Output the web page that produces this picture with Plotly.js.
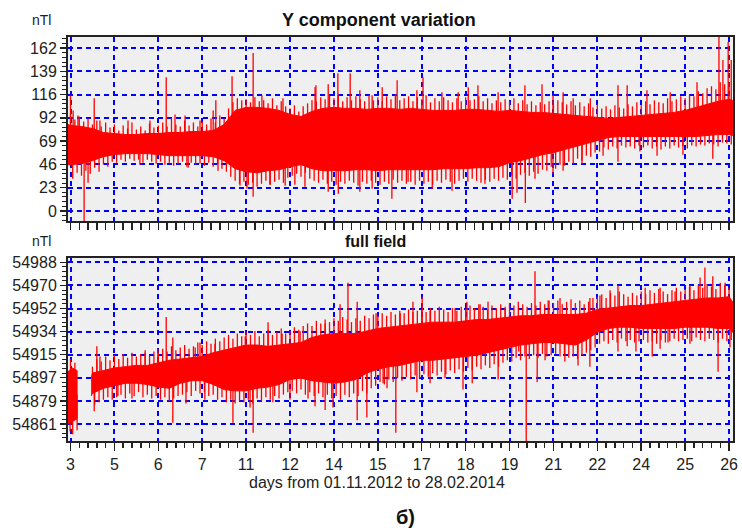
<!DOCTYPE html>
<html>
<head>
<meta charset="utf-8">
<script src="https://cdn.plot.ly/plotly-3.0.1.min.js"></script>
<style>html,body{margin:0;padding:0;background:#fff;}#chart{width:742px;height:531px;}</style>
</head>
<body>
<div id="chart"></div>
<script>
// ---------- data ----------
const xTickLabels = ['3','5','6','7','11','12','14','15','17','18','19','21','22','24','25','26'];
const xTickVals = [0,1,2,3,4,5,6,7,8,9,10,11,12,13,14,15];

const yTopTickLabels = ['0','23','46','69','92','116','139','162'];
const yTopTickVals = [0,23.14,46.29,69.43,92.57,115.71,138.86,162];
const yBotTickLabels = ['54861','54879','54897','54915','54934','54952','54970','54988'];
const yBotTickVals = [54861,54879.1,54897.3,54915.4,54933.6,54951.7,54969.9,54988];

// Y component: solid core of the band (upper / lower edge)
const topX = [-0.06,
  0,0.25,0.5,0.75,1,1.25,1.5,1.75,2,2.25,2.5,2.75,3,3.25,3.5,3.75,4,4.25,4.5,4.75,
  5,5.25,5.5,5.75,6,6.25,6.5,6.75,7,7.25,7.5,7.75,8,8.25,8.5,8.75,9,9.25,9.5,9.75,
  10,10.25,10.5,10.75,11,11.25,11.5,11.75,12,12.25,12.5,12.75,13,13.25,13.5,13.75,14,14.25,14.5,14.75,15,
  15.08];
const topUpper = [86,
  85,84,82,78,77,76,76,77,77,78,78,79,79,80,86,100,103,103,102,100,
  96,94,99,102,103,102,102,101,102,102,101,102,101,100,100,100,101,101,100,99,
  100,99,98,98,97,96,95,94,93,92,93,94,95,96,97,98,100,103,106,109,111,
  110];
const topLower = [46,
  46,47,50,54,56,57,57,57,56,55,55,55,55,54,50,42,39,38,40,41,
  44,46,42,40,40,40,41,41,40,41,41,41,41,41,42,42,42,43,43,44,
  48,50,53,56,58,61,64,67,70,73,74,74,74,74,74,74,74,74,75,76,76,
  75];
// Y component: ragged fringe of the band, sampled every 0.1 of a tick step
const topFringeUp = [
  97,91,94,89,92,86,90,84,88,83,
  86,80,85,82,88,81,84,80,87,83,
  85,88,84,92,86,84,90,85,88,84,
  89,86,92,88,95,92,102,108,112,110,
  111,108,113,109,110,107,112,105,109,104,
  102,105,99,104,107,110,109,113,111,115,
  112,115,109,113,110,114,111,109,115,110,
  113,109,114,111,116,110,112,114,109,113,
  111,115,108,112,109,113,110,108,112,109,
  113,110,111,114,109,112,107,110,108,111,
  109,112,107,110,106,109,105,108,106,109,
  107,110,108,106,109,105,108,104,107,103,
  106,102,104,101,105,103,102,106,104,108,
  105,109,106,110,108,107,112,109,111,114,
  112,116,114,119,117,122,124,121,128,126,
  127];
const topFringeLo = [
  32,38,35,40,37,43,39,46,44,49,
  48,51,49,52,50,51,48,51,49,47,
  49,46,48,45,47,49,44,48,46,47,
  45,48,44,46,42,39,34,30,27,29,
  26,28,24,27,30,26,29,31,28,33,
  35,37,34,38,32,30,28,31,27,29,
  26,29,27,30,28,25,29,27,30,28,
  26,29,27,31,28,30,27,29,26,30,
  27,29,26,30,28,31,29,27,30,32,
  29,32,30,28,31,29,32,30,33,31,
  35,32,36,38,35,39,37,41,40,44,
  42,46,45,49,47,52,50,55,54,58,
  59,63,61,64,62,65,63,64,62,65,
  63,65,62,64,61,64,62,65,63,64,
  62,65,64,66,65,67,66,64,68,67,
  66];
// Y component: individual spikes [position, value]
const topSpikeX = [0.0,0.06,0.17,0.31,0.40,0.54,0.67,1.31,1.58,1.81,2.18,2.38,2.61,2.68,2.95,3.25,3.31,3.36,3.68,3.86,4.02,4.16,4.16,4.36,4.54,4.84,4.89,
  5.11,5.34,5.57,5.59,5.87,5.87,6.09,6.10,6.37,6.59,6.59,6.87,6.87,7.10,7.32,7.44,7.69,7.89,8.03,8.24,8.46,8.69,8.83,9.06,9.28,9.44,9.74,10.06,
  10.17,10.35,10.36,10.58,10.74,10.99,10.99,11.22,11.22,11.45,11.65,11.84,12.13,12.47,12.47,12.68,12.97,13.13,13.36,13.66,13.95,14.27,14.63,14.77,14.86,14.98,15.05];
const topSpikeY = [115,100,95,-12,28,112,90,90,46,90,133,96,95,43,90,100,110,40,134,25,22,157,14,115,26,112,25,
  26,24,123,125,126,19,137,17,137,120,19,115,22,123,12,130,29,120,133,22,118,20,118,123,125,27,118,12,
  18,125,8,32,126,115,37,118,40,112,47,112,55,125,49,125,59,120,55,118,56,128,52,173,150,168,150];

// Full field: solid core (segment before the data gap, then the rest)
const botX1 = [-0.06,0.04,0.15];
const botUpper1 = [54902,54905,54903];
const botLower1 = [54861,54863,54865];
const botX2 = [0.47,0.5,0.75,1,1.25,1.5,1.75,2,2.25,2.5,2.75,3,3.25,3.5,3.75,4,4.25,4.5,4.75,
  5,5.25,5.5,5.75,6,6.25,6.5,6.75,7,7.25,7.5,7.75,8,8.25,8.5,8.75,9,9.25,9.5,9.75,
  10,10.25,10.5,10.75,11,11.25,11.5,11.75,12,12.25,12.5,12.75,13,13.25,13.5,13.75,14,14.25,14.5,14.75,15,15.08];
const botUpper2 = [54897,54901,54903,54905,54906,54907,54907,54909,54911,54912,54913,54914,54917,54919,54921,54923,54923,54922,54923,
  54924,54925,54929,54931,54932,54932,54932,54934,54936,54937,54938,54939,54940,54941,54941,54941,54942,54943,54943,54944,
  54945,54946,54946,54947,54947,54947,54947,54948,54951,54952,54953,54954,54954,54955,54956,54957,54958,54959,54960,54960,54961,54957];
const botLower2 = [54883,54885,54889,54891,54893,54893,54892,54890,54889,54893,54895,54895,54892,54888,54887,54887,54889,54890,54892,
  54896,54897,54895,54894,54893,54894,54896,54901,54904,54906,54907,54909,54911,54911,54912,54913,54914,54915,54917,54919,
  54921,54923,54924,54925,54925,54924,54923,54927,54933,54936,54937,54937,54936,54936,54936,54936,54937,54937,54937,54936,54936,54933];
// Full field: ragged fringe, sampled every 0.1 of a tick step (null = no data)
const botFringeUp = [
  54912,54909,null,null,null,54906,54912,54910,54914,54911,
  54915,54912,54916,54913,54917,54914,54916,54919,54915,54918,
  54917,54920,54918,54922,54919,54921,54923,54920,54922,54925,
  54923,54926,54924,54928,54926,54929,54931,54928,54932,54930,
  54933,54931,54934,54930,54932,54935,54931,54933,54936,54932,
  54934,54937,54935,54938,54940,54938,54942,54940,54943,54941,
  54944,54942,54945,54943,54941,54944,54942,54946,54944,54947,
  54946,54948,54946,54949,54947,54950,54948,54951,54949,54950,
  54951,54949,54952,54950,54953,54951,54949,54952,54950,54953,
  54951,54954,54952,54955,54953,54951,54954,54952,54955,54953,
  54956,54954,54957,54955,54953,54956,54954,54957,54955,54958,
  54956,54958,54955,54957,54959,54956,54958,54955,54957,54960,
  54961,54963,54960,54964,54962,54965,54963,54961,54964,54962,
  54965,54963,54966,54964,54967,54965,54963,54966,54968,54965,
  54967,54969,54966,54970,54968,54971,54969,54967,54972,54970,
  54968];
const botFringeLo = [
  54853,54856,null,null,null,54876,54878,54880,54882,54880,
  54882,54884,54881,54885,54883,54886,54882,54884,54881,54883,
  54880,54882,54879,54881,54883,54884,54886,54883,54887,54885,
  54886,54883,54884,54880,54882,54878,54880,54877,54879,54878,
  54880,54877,54881,54879,54882,54880,54883,54881,54884,54886,
  54887,54885,54888,54884,54886,54883,54885,54882,54884,54881,
  54883,54880,54884,54882,54885,54883,54887,54885,54889,54891,
  54894,54892,54896,54894,54897,54895,54898,54896,54899,54897,
  54900,54898,54901,54899,54902,54900,54903,54901,54904,54902,
  54905,54903,54906,54904,54907,54905,54908,54906,54909,54911,
  54910,54913,54911,54914,54912,54915,54913,54916,54914,54915,
  54916,54914,54915,54913,54914,54912,54915,54917,54919,54921,
  54924,54926,54924,54927,54925,54928,54926,54927,54925,54926,
  54927,54925,54926,54924,54927,54925,54926,54928,54926,54927,
  54928,54926,54929,54927,54926,54928,54927,54925,54928,54926,
  54927];
// Full field: individual spikes [position, value]
const botSpikeX = [-0.01,0.54,0.6,0.67,1.08,1.40,1.70,1.99,2.18,2.33,2.33,2.63,2.84,2.95,3.06,3.29,3.70,3.98,4.09,4.16,4.50,4.61,4.82,5.0,5.23,5.41,5.57,
  5.80,5.80,5.98,6.14,6.32,6.53,6.53,6.75,6.96,7.12,7.21,7.41,7.51,7.80,7.89,8.01,8.19,8.19,8.53,8.76,8.94,9.03,9.15,9.33,9.51,9.74,9.90,
  10.21,10.38,10.58,10.63,10.81,10.88,11.15,11.26,11.56,11.83,11.83,12.06,12.29,12.47,12.47,12.68,12.88,13.09,13.25,13.43,13.43,13.61,13.77,14.11,14.11,14.34,14.45,14.63,14.75,14.91,15.02];
const botSpikeY = [54855,54871,54922,54914,54883,54881,54917,54920,54945,54929,54862,54877,54921,54925,54880,54924,54862,54930,54874,54854,54941,54878,54932,54880,54934,54881,54875,
  54940,54872,54874,54955,54972,54957,54864,54866,54948,54893,54889,54854,54948,54957,54886,54961,54950,54893,54897,54952,54888,54957,54893,54955,54957,54896,54952,
  54918,54838,54981,54894,54911,54958,54960,54910,54907,54960,54906,54962,54966,54970,54918,54922,54918,54968,54914,54968,54920,54925,54965,54924,54970,54976,54984,54977,54902,54972,54921];

// ---------- helpers ----------
function bandPolygon(xs, up, lo) {
  return { x: xs.concat(xs.slice().reverse()), y: up.concat(lo.slice().reverse()) };
}
function nearestMid(u, xs, up, lo) {
  let k = 0, best = 1e9;
  for (let j = 0; j < xs.length; j++) { const d = Math.abs(xs[j] - u); if (d < best) { best = d; k = j; } }
  return (up[k] + lo[k]) / 2;
}
function spikeLines(sx, sy, xs, up, lo) {
  const X = [], Y = [];
  for (let i = 0; i < sx.length; i++) {
    if (sy[i] === null) continue;
    X.push(sx[i], sx[i], null); Y.push(nearestMid(sx[i], xs, up, lo), sy[i], null);
  }
  return { x: X, y: Y };
}
function fringeLines(vals, offset, xs, up, lo) {
  const sx = vals.map((v, i) => i / 10 + offset);
  return spikeLines(sx, vals, xs, up, lo);
}

const RED = '#ff0000';
const topBand = bandPolygon(topX, topUpper, topLower);
const topSp = spikeLines(topSpikeX, topSpikeY, topX, topUpper, topLower);
const topFu = fringeLines(topFringeUp, 0, topX, topUpper, topLower);
const topFl = fringeLines(topFringeLo, 0.05, topX, topUpper, topLower);
const b1 = bandPolygon(botX1, botUpper1, botLower1);
const b2 = bandPolygon(botX2, botUpper2, botLower2);
const botAllX = botX1.concat(botX2), botAllU = botUpper1.concat(botUpper2), botAllL = botLower1.concat(botLower2);
const botSp = spikeLines(botSpikeX, botSpikeY, botAllX, botAllU, botAllL);
const botFu = fringeLines(botFringeUp, 0, botAllX, botAllU, botAllL);
const botFl = fringeLines(botFringeLo, 0.05, botAllX, botAllU, botAllL);

function lineTrace(d, xa, ya, w) {
  return { x: d.x, y: d.y, xaxis: xa, yaxis: ya, type: 'scatter', mode: 'lines', line: { color: RED, width: w }, connectgaps: false, hoverinfo: 'skip' };
}
const traces = [
  { x: topBand.x, y: topBand.y, xaxis: 'x', yaxis: 'y', type: 'scatter', mode: 'lines', fill: 'toself', fillcolor: RED, line: { color: RED, width: 1 }, hoverinfo: 'skip' },
  lineTrace(topFu, 'x', 'y', 1.3), lineTrace(topFl, 'x', 'y', 1.3), lineTrace(topSp, 'x', 'y', 1.3),
  { x: b1.x.concat([null], b2.x), y: b1.y.concat([null], b2.y), xaxis: 'x2', yaxis: 'y2', type: 'scatter', mode: 'lines', fill: 'toself', fillcolor: RED, line: { color: RED, width: 1 }, connectgaps: false, hoverinfo: 'skip' },
  lineTrace(botFu, 'x2', 'y2', 1.3), lineTrace(botFl, 'x2', 'y2', 1.3), lineTrace(botSp, 'x2', 'y2', 1.3)
];

const FONT = 'Liberation Sans, Arial, sans-serif';
const gridCommon = { showgrid: true, gridcolor: '#0000ff', gridwidth: 2, griddash: '5px,4px', zeroline: false,
  showline: true, mirror: true, linecolor: '#222', linewidth: 2, tickcolor: '#222', tickwidth: 1.5 };
const xRange = [-0.057, 15.09];

const layout = {
  width: 742, height: 531,
  margin: { l: 68, r: 9, t: 37, b: 90, pad: 0 },
  paper_bgcolor: '#ffffff', plot_bgcolor: '#efefef',
  showlegend: false,
  font: { family: FONT, size: 16, color: '#222' },
  xaxis: Object.assign({}, gridCommon, { domain: [0, 1], anchor: 'y', range: xRange, tickmode: 'array', tickvals: xTickVals,
    showticklabels: false, ticks: 'outside', ticklen: 7,
    minor: { tickmode: 'linear', tick0: 0, dtick: 0.2, ticks: 'outside', ticklen: 7, tickcolor: '#222', tickwidth: 1.5, showgrid: false } }),
  xaxis2: Object.assign({}, gridCommon, { domain: [0, 1], anchor: 'y2', range: xRange, tickmode: 'array', tickvals: xTickVals, ticktext: xTickLabels,
    ticks: 'outside', ticklen: 8, tickfont: { family: FONT, size: 16, color: '#222' },
    minor: { tickmode: 'linear', tick0: 0, dtick: 0.2, ticks: 'outside', ticklen: 5, tickcolor: '#222', tickwidth: 1.5, showgrid: false } }),
  yaxis: Object.assign({}, gridCommon, { domain: [0.5446, 1], anchor: 'x', range: [-10, 173], tickmode: 'array', tickvals: yTopTickVals, ticktext: yTopTickLabels,
    ticks: 'outside', ticklen: 6, tickfont: { family: FONT, size: 16, color: '#222' },
    minor: { tickmode: 'linear', tick0: 0, dtick: 4.628, ticks: 'outside', ticklen: 4, tickcolor: '#222', tickwidth: 1, showgrid: false } }),
  yaxis2: Object.assign({}, gridCommon, { domain: [0, 0.453], anchor: 'x2', range: [54847.6, 54991.4], tickmode: 'array', tickvals: yBotTickVals, ticktext: yBotTickLabels,
    ticks: 'outside', ticklen: 6, tickfont: { family: FONT, size: 16, color: '#222' },
    minor: { tickmode: 'linear', tick0: 54861, dtick: 3.6286, ticks: 'outside', ticklen: 4, tickcolor: '#222', tickwidth: 1, showgrid: false } }),
  annotations: [
    { text: 'nTl', xref: 'paper', yref: 'paper', x: -0.0406, y: 1.042, xanchor: 'center', yanchor: 'middle', showarrow: false, font: { family: FONT, size: 14, color: '#222' } },
    { text: 'nTl', xref: 'paper', yref: 'paper', x: -0.0406, y: 0.495, xanchor: 'center', yanchor: 'middle', showarrow: false, font: { family: FONT, size: 14, color: '#222' } },
    { text: '<b>Y component variation</b>', xref: 'paper', yref: 'paper', x: 0.4677, y: 1.042, xanchor: 'center', yanchor: 'middle', showarrow: false, font: { family: FONT, size: 18, color: '#111' } },
    { text: '<b>full field</b>', xref: 'paper', yref: 'paper', x: 0.4617, y: 0.4926, xanchor: 'center', yanchor: 'middle', showarrow: false, font: { family: FONT, size: 16, color: '#111' } },
    { text: 'days from 01.11.2012 to 28.02.2014', xref: 'paper', yref: 'paper', x: 0.4654, y: -0.1015, xanchor: 'center', yanchor: 'middle', showarrow: false, font: { family: FONT, size: 16, color: '#222' } },
    { text: '<b>б)</b>', xref: 'paper', yref: 'paper', x: 0.5068, y: -0.188, xanchor: 'center', yanchor: 'middle', showarrow: false, font: { family: FONT, size: 20, color: '#111' } }
  ]
};

Plotly.newPlot('chart', traces, layout, { displayModeBar: false, staticPlot: true });
</script>
</body>
</html>
